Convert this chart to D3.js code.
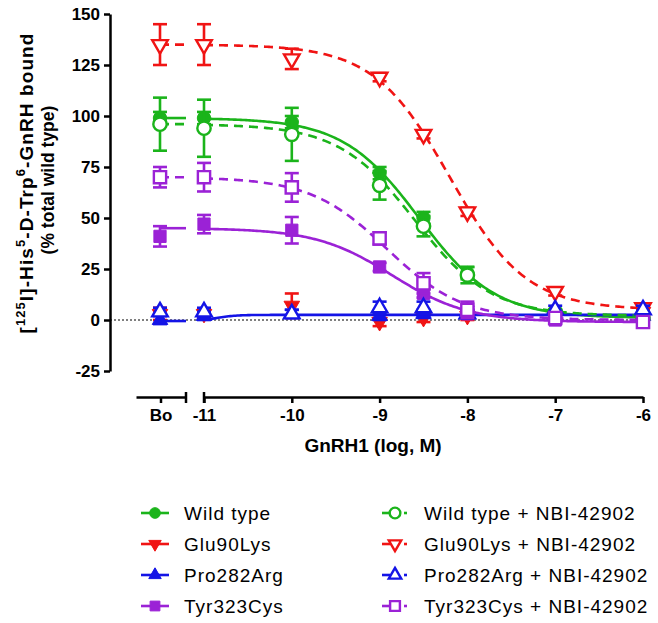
<!DOCTYPE html>
<html><head><meta charset="utf-8">
<script src="https://cdn.jsdelivr.net/npm/d3@7"></script>
<style>body{margin:0;background:#fff}svg{display:block;font-family:Arial,"Liberation Sans",sans-serif}</style>
</head><body><svg id="c" width="658" height="623"></svg>
<script>
// ---------- data ----------
const xTickValues = [-11, -10, -9, -8, -7, -6];
const boLabel = "Bo";
const concentrations = [-11, -10, -9, -8.5, -8, -7, -6]; // log M (Bo handled separately)
const yTickValues = [-25, 0, 25, 50, 75, 100, 125, 150];

// values: [Bo, -11, -10, -9, -8.5, -8, -7, -6]
const wtMean      = [99, 99, 97, 72, 50, 23, 3, 1];
const wtSem       = [3, 3, 3, 3, 3, 3, 1, 1];
const gluMean     = [3, 3, 7, -1, 1, 2, 2, 4];
const gluSem      = [3, 2, 6, 2, 2, 2, 1, 2];
const proMean     = [0, 2, 3, 2, 3, 3, 2, 2];
const proSem      = [2, 2, 2, 2, 2, 2, 1, 1];
const tyrMean     = [41, 47, 44, 26, 13, 3, 0, -1];
const tyrSem      = [5, 4.5, 6.5, 2, 2, 2, 1, 1];
const wtNbiMean   = [96, 94, 91, 66, 46, 22, 4, 1];
const wtNbiSem    = [13, 14, 13, 7, 5, 4, 1, 1];
const gluNbiMean  = [135, 135, 128, 119, 91, 53, 14, 6];
const gluNbiSem   = [10, 10, 5, 2, 2, 2, 2, 2];
const proNbiMean  = [4, 4, 3, 6, 6, 3, 5, 5];
const proNbiSem   = [2, 2, 2, 3, 3, 2, 2, 2];
const tyrNbiMean  = [70, 70, 65, 40, 18, 5, 1, -1];
const tyrNbiSem   = [5, 7, 7, 3, 5, 4, 2, 2];

// fitted curves: [top, bottom, logIC50, hill]
const wtFit     = [99, 1, -8.55, 1];
const proFit    = [-0.5, 2.5, -10.85, 4];
const tyrFit    = [45, -1, -8.86, 1];
const wtNbiFit  = [96, 2, -8.6, 1];
const gluNbiFit = [135, 5, -8.2, 1];
const tyrNbiFit = [70, 0, -8.92, 1];

const seriesNames = ["Wild type", "Glu90Lys", "Pro282Arg", "Tyr323Cys",
  "Wild type + NBI-42902", "Glu90Lys + NBI-42902", "Pro282Arg + NBI-42902", "Tyr323Cys + NBI-42902"];

const GREEN = "#1bb41b", RED = "#f01414", BLUE = "#1414e6", PURPLE = "#9b22d6";
const series = [
  {name: seriesNames[0], color: GREEN, marker: "circle", filled: true, dashed: false, mean: wtMean, sem: wtSem, fit: wtFit},
  {name: seriesNames[1], color: RED, marker: "triDown", filled: true, dashed: false, mean: gluMean, sem: gluSem, fit: null},
  {name: seriesNames[2], color: BLUE, marker: "triUp", filled: true, dashed: false, mean: proMean, sem: proSem, fit: proFit},
  {name: seriesNames[3], color: PURPLE, marker: "square", filled: true, dashed: false, mean: tyrMean, sem: tyrSem, fit: tyrFit},
  {name: seriesNames[4], color: GREEN, marker: "circle", filled: false, dashed: true, mean: wtNbiMean, sem: wtNbiSem, fit: wtNbiFit},
  {name: seriesNames[5], color: RED, marker: "triDown", filled: false, dashed: true, mean: gluNbiMean, sem: gluNbiSem, fit: gluNbiFit},
  {name: seriesNames[6], color: BLUE, marker: "triUp", filled: false, dashed: true, mean: proNbiMean, sem: proNbiSem, fit: null},
  {name: seriesNames[7], color: PURPLE, marker: "square", filled: false, dashed: true, mean: tyrNbiMean, sem: tyrNbiSem, fit: tyrNbiFit}
];

// ---------- layout ----------
const svg = d3.select("#c");
const axisX = 110, xAxisY = 397;
const x = d3.scaleLinear().domain([-11, -6]).range([204, 643]);
const xBo = d3.scaleBand().domain([boLabel]).range([136, 186]).padding(0);
const boX = xBo(boLabel) + xBo.bandwidth() / 2 - 1;
const boLineEnd = 186;
const y = d3.scaleLinear().domain([-25, 150]).range([371, 14]);

const FF = "Arial, 'Liberation Sans', sans-serif";
const fontTick = "bold 17px " + FF;
const fmt = d => String(d);

// y axis
const yAxis = svg.append("g").attr("transform", `translate(${axisX},0)`)
  .call(d3.axisLeft(y).tickValues(yTickValues).tickSize(6).tickSizeOuter(0).tickPadding(4).tickFormat(fmt));
yAxis.select(".domain").attr("stroke", "#000").attr("stroke-width", 2.5);
yAxis.selectAll(".tick line").attr("stroke", "#000").attr("stroke-width", 2.5);
yAxis.selectAll(".tick text").attr("fill", "#000").style("font", fontTick).attr("dy", "0.35em");

// zero line
svg.append("line").attr("x1", axisX).attr("x2", 643).attr("y1", y(0)).attr("y2", y(0))
  .attr("stroke", "#000").attr("stroke-width", 1.2).attr("stroke-dasharray", "2,2");

// x axis main
const xAxis = svg.append("g").attr("transform", `translate(0,${xAxisY})`)
  .call(d3.axisBottom(x).tickValues(xTickValues).tickSize(6).tickSizeOuter(0).tickPadding(6).tickFormat(fmt));
xAxis.select(".domain").attr("stroke", "#000").attr("stroke-width", 2.5);
xAxis.selectAll(".tick line").attr("stroke", "#000").attr("stroke-width", 2.5);
xAxis.selectAll(".tick text").attr("fill", "#000").style("font", fontTick);

// x axis Bo segment
const boAxis = svg.append("g").attr("transform", `translate(0,${xAxisY})`)
  .call(d3.axisBottom(xBo).tickSize(6).tickSizeOuter(0).tickPadding(6));
boAxis.select(".domain").attr("stroke", "#000").attr("stroke-width", 2.5);
boAxis.selectAll(".tick line").attr("stroke", "#000").attr("stroke-width", 2.5);
boAxis.selectAll(".tick text").attr("fill", "#000").style("font", fontTick);
// break marks
[boLineEnd, x(-11)].forEach(px => {
  svg.append("line").attr("x1", px).attr("x2", px).attr("y1", xAxisY - 5).attr("y2", xAxisY + 6)
    .attr("stroke", "#000").attr("stroke-width", 2.5);
});

// axis titles
svg.append("text").attr("x", 373).attr("y", 452).attr("text-anchor", "middle")
  .style("font", "bold 19px " + FF).text("GnRH1 (log, M)");

const yt = svg.append("text").attr("transform", "translate(33,183) rotate(-90)").attr("text-anchor", "middle")
  .style("font", "bold 19px " + FF);
const parts = [["[", 0], ["125", 1], ["I]-His", 0], ["5", 1], ["-D-Trp", 0], ["6", 1], ["-GnRH bound", 0]];
let prevSup = 0, nChars = 0;
parts.forEach(([t, sup]) => {
  const ts = yt.append("tspan").text(t);
  if (sup) ts.style("font-size", "13px");
  const dy = sup && !prevSup ? -8 : (!sup && prevSup ? 8 : 0);
  if (dy) ts.attr("dy", dy);
  prevSup = sup;
  nChars += t.length;
});
const natLen = yt.node().getComputedTextLength();
yt.style("letter-spacing", ((301 - natLen) / nChars) + "px");

svg.append("text").attr("transform", "translate(54,180) rotate(-90)").attr("text-anchor", "middle")
  .style("font", "bold 17.5px " + FF).text("(% total wild type)");

// ---------- marks ----------
function symbolPath(kind, scale) {
  const s = scale || 1;
  if (kind === "circle") return d3.symbol(d3.symbolCircle, 140 * s * s)();
  if (kind === "square") return d3.symbol(d3.symbolSquare, 150 * s * s)();
  return d3.symbol(d3.symbolTriangle, 105 * s * s)();
}
function drawMarker(g, s, px, py, scale) {
  return g.append("path").attr("d", symbolPath(s.marker, scale))
    .attr("transform", `translate(${px},${py})` + (s.marker === "triDown" ? " rotate(180)" : ""))
    .attr("fill", s.filled ? s.color : "#fff")
    .attr("stroke", s.color).attr("stroke-width", s.filled ? 1 : 2.4);
}
function fitVal(f, lx) {
  const [top, bottom, c, h] = f;
  return bottom + (top - bottom) / (1 + Math.pow(10, (lx - c) * h));
}

const plot = svg.append("g");
series.forEach(s => {
  const g = plot.append("g");
  const dash = s.dashed ? "9,6" : null;
  if (s.fit) {
    const xs = d3.range(-11, -5.999, 0.02);
    g.append("path").datum(xs)
      .attr("d", d3.line().x(d => x(d)).y(d => y(fitVal(s.fit, d))))
      .attr("fill", "none").attr("stroke", s.color).attr("stroke-width", 2.6).attr("stroke-dasharray", dash);
    g.append("line").attr("x1", boX).attr("x2", boLineEnd)
      .attr("y1", y(fitVal(s.fit, -30))).attr("y2", y(fitVal(s.fit, -30)))
      .attr("stroke", s.color).attr("stroke-width", 2.6).attr("stroke-dasharray", dash);
  }
  const pts = s.mean.map((m, i) => ({px: i === 0 ? boX : x(concentrations[i - 1]), m, e: s.sem[i]}));
  pts.forEach(p => {
    if (p.e > 0) {
      g.append("line").attr("x1", p.px).attr("x2", p.px).attr("y1", y(p.m + p.e)).attr("y2", y(p.m - p.e))
        .attr("stroke", s.color).attr("stroke-width", 2.6);
      [p.m + p.e, p.m - p.e].forEach(v => g.append("line").attr("x1", p.px - 7).attr("x2", p.px + 7)
        .attr("y1", y(v)).attr("y2", y(v)).attr("stroke", s.color).attr("stroke-width", 2.6));
    }
  });
  pts.forEach(p => drawMarker(g, s, p.px, y(p.m), 1));
});

// ---------- legend ----------
const legend = svg.append("g");
const rowY = [513, 544, 575, 606];
series.forEach((s, i) => {
  const col = i < 4 ? 0 : 1;
  const cy = rowY[i % 4];
  const mx = col === 0 ? 155 : 395;
  const tx = col === 0 ? 184 : 424;
  const g = legend.append("g");
  if (!s.dashed) {
    g.append("line").attr("x1", mx - 14).attr("x2", mx + 14).attr("y1", cy).attr("y2", cy)
      .attr("stroke", s.color).attr("stroke-width", 2.6);
  } else {
    g.append("line").attr("x1", mx - 13).attr("x2", mx - 5).attr("y1", cy).attr("y2", cy)
      .attr("stroke", s.color).attr("stroke-width", 2.6);
    g.append("line").attr("x1", mx + 9).attr("x2", mx + 12).attr("y1", cy).attr("y2", cy)
      .attr("stroke", s.color).attr("stroke-width", 2.6);
  }
  drawMarker(g, s, mx, cy, 0.8);
  g.append("text").attr("x", tx).attr("y", cy + 7).style("font", "19px " + FF)
    .style("letter-spacing", "1px").attr("fill", "#000").text(s.name);
});
</script></body></html>
